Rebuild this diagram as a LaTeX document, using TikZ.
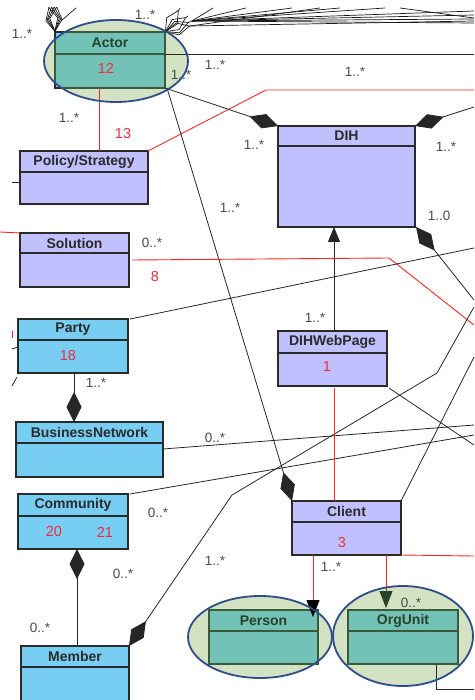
\documentclass[tikz,border=0pt]{standalone}
\usepackage{fontspec}
\setmainfont{Liberation Sans}
\usetikzlibrary{arrows.meta}
\definecolor{purpfill}{HTML}{C0C0FF}
\definecolor{cyanfill}{HTML}{78CEF2}
\definecolor{tealfill}{HTML}{72C2B8}
\definecolor{boxline}{HTML}{2A2A2A}
\definecolor{tealline}{HTML}{3A5A3A}
\definecolor{tealtext}{HTML}{274227}
\definecolor{ellfill}{HTML}{D2E2C2}
\definecolor{ellline}{HTML}{2D4E8A}
\definecolor{redline}{HTML}{FF2525}
\definecolor{redtext}{HTML}{F02A3C}
\definecolor{multc}{HTML}{4A4A4A}
\tikzset{
  clsbox/.style={rectangle, inner sep=0pt, outer sep=0pt, line width=1.1pt},
  pclass/.style={clsbox, fill=purpfill, draw=boxline},
  cclass/.style={clsbox, fill=cyanfill, draw=boxline},
  tclass/.style={clsbox, fill=tealfill, draw=tealline},
  pclassl/.style={draw=boxline, line width=1.1pt},
  cclassl/.style={draw=boxline, line width=1.1pt},
  tclassl/.style={draw=tealline, line width=1.1pt},
  pclasst/.style={font=\fontsize{14}{14}\selectfont\bfseries, text=boxline, inner sep=0pt},
  cclasst/.style={font=\fontsize{14}{14}\selectfont\bfseries, text=boxline, inner sep=0pt},
  tclasst/.style={font=\fontsize{14}{14}\selectfont\bfseries, text=tealtext, inner sep=0pt},
  mult/.style={font=\fontsize{13.5}{13.5}\selectfont, text=multc, inner sep=0pt},
  rnum/.style={font=\fontsize{14.5}{14.5}\selectfont, text=redtext, inner sep=0pt},
  conn/.style={draw=black!85, line width=0.8pt},
  thinconn/.style={draw=black!90, line width=0.7pt},
  rconn/.style={draw=redline, line width=0.9pt},
  comp/.style={-{Diamond[length=30pt,width=15pt]}},
  compstart/.style={{Diamond[length=30pt,width=15pt]}-},
  hollowd/.style={{Diamond[open,length=26pt,width=13pt]}-},
  ell/.style={draw=ellline, line width=1.8pt},
}
\newcommand{\umlcls}[8]{%
  \pgfmathsetmacro\cw{#4-#2}%
  \pgfmathsetmacro\chh{#5-#3}%
  \pgfmathsetmacro\hh{#6-#3}%
  \pgfmathsetmacro\hm{(#6-#3)/2}%
  \node[#8,minimum width=\cw pt,minimum height=\chh pt,anchor=north west] (#1) at (#2,#3) {};
  \draw[#8l] ([yshift=-\hh pt]#1.north west) -- ([yshift=-\hh pt]#1.north east);
  \node[#8t] (#1t) at ([yshift=-\hm pt]#1.north) {#7};
}
\begin{document}
\begin{tikzpicture}[x=1pt,y=-1pt]
\useasboundingbox (0,0) rectangle (474,700);
\clip (0,8) rectangle (474,700);

% ellipse fills
\fill[ellfill] (116,61) ellipse [x radius=72pt, y radius=41pt];
\fill[ellfill] (260,637) ellipse [x radius=72pt, y radius=41pt];
\fill[ellfill] (403,636) ellipse [x radius=70pt, y radius=50pt];

% class boxes
\node[cclass,minimum width=110pt,minimum height=56pt,anchor=north west] (actor) at (55,32) {};
\umlcls{policy}{20}{151}{148}{204}{172}{Policy/Strategy}{pclass}
\umlcls{dih}{278}{126}{415}{227}{146}{DIH}{pclass}
\umlcls{solution}{20}{233}{129}{287}{253}{Solution}{pclass}
\umlcls{party}{18}{319}{128}{373}{340}{Party}{cclass}
\umlcls{bn}{16}{422}{163}{477}{443}{BusinessNetwork}{cclass}
\umlcls{community}{18}{494}{128}{549}{516}{Community}{cclass}
\umlcls{member}{21}{646}{129}{712}{667}{Member}{cclass}
\umlcls{webpage}{278}{331}{387}{386}{353}{DIHWebPage}{pclass}
\umlcls{client}{292}{501}{401}{555}{522}{Client}{pclass}
\umlcls{person}{209}{610}{318}{664}{631}{Person}{tclass}
\umlcls{orgunit}{348}{610}{458}{664}{631}{OrgUnit}{tclass}

% Actor: teal inside its ellipse
\begin{scope}
  \clip (116,61) ellipse [x radius=72pt, y radius=41pt];
  \draw[tclass] (actor.north west) rectangle (actor.south east);
\end{scope}
\draw[tclassl] ([yshift=-22pt]actor.north west) -- ([yshift=-22pt]actor.north east);
\node[tclasst] (actort) at ([yshift=-11pt]actor.north) {Actor};

% ---- connectors ----
% top-left cluster
\foreach \a in {256,262,268,274} \draw[thinconn,hollowd] (actor.north west) -- ++(\a:40);
\coordinate (tlk) at (61,21);
\coordinate (tle) at (76,8);
\draw[thinconn] (tlk) -- (tle);

% top-right cluster
\coordinate (h1) at (192,21);
\coordinate (h2) at (190,26);
\coordinate (h3) at (180,8);
\coordinate (h4) at (188,16);
\draw[thinconn,hollowd] (actor.north east) -- (h1);
\draw[thinconn,hollowd] (actor.north east) -- (h2);
\draw[thinconn,hollowd] (actor.north east) -- (h3);
\draw[thinconn,hollowd] (actor.north east) -- (h4);
\foreach \p in {(213,8),(246,8),(292,8),(340,8),(385,8),(474,11),(474,15),(474,19),(474,23)}
  \draw[thinconn] (h1) -- \p;
\foreach \p in {(320,8),(474,21)}
  \draw[thinconn] (h2) -- \p;
\coordinate (xa) at (400,8);
\coordinate (xb) at (474,18);
\draw[thinconn] (xa) -- (xb);

% Actor - Policy (red)
\draw[rconn] ([xshift=44pt]actor.south west) -- ([xshift=79pt]policy.north west);
% Policy -> right (red)
\coordinate (r1) at (266,90);
\coordinate (r1e) at (474,90);
\draw[rconn] (policy.north east) -- (r1) -- (r1e);
% Actor horizontal
\coordinate (a1e) at (474,54);
\draw[conn] ([yshift=-22pt]actor.north east) -- (a1e);
% Actor -> DIH composition
\draw[conn,comp] (actor.south east) -- (dih.north west);
% DIH top right
\coordinate (d1e) at (474,107);
\draw[conn,compstart] (dih.north east) -- (d1e);
% DIH bottom right
\coordinate (d2e) at (474,300);
\draw[conn,compstart] ([xshift=1pt]dih.south east) -- (d2e);
% WebPage -> DIH
\draw[conn,-{Triangle[length=15pt,width=12pt]}] ([xshift=56pt]webpage.north west) -- ([xshift=56pt]webpage.north west |- dih.south);
% Actor -> Client composition
\draw[conn,comp] ([xshift=2pt]actor.south east) -- (client.north west);
% Solution red lines
\coordinate (s0) at (0,232);
\draw[rconn] (s0) -- (solution.north west);
\coordinate (s1) at (389,258);
\coordinate (s1e) at (474,325);
\draw[rconn] ([xshift=3pt]solution.east) -- (s1) -- (s1e);
% Party -> right
\coordinate (p1e) at (474,248);
\draw[conn] ([xshift=2pt]party.north east) -- (p1e);
% Party -> BusinessNetwork
\draw[conn,comp] ([xshift=56pt]party.south west) -- ([xshift=58pt]bn.north west);
% BN -> right
\coordinate (b1e) at (474,425);
\draw[conn] ([yshift=-27pt]bn.north east) -- (b1e);
% Community -> right
\coordinate (c1e) at (474,435);
\draw[conn] ([xshift=2pt]community.north east) -- (c1e);
% Community - Member
\draw[conn,compstart] ([xshift=59pt]community.south west) -- ([xshift=56pt]member.north west);
% Member -> right
\coordinate (m1) at (232,495);
\coordinate (m2) at (437,373);
\coordinate (m3e) at (474,307);
\draw[conn,compstart] (member.north east) -- (m1) -- (m2) -- (m3e);
% WebPage -> Client (red)
\draw[rconn] ([xshift=56pt,yshift=-2pt]webpage.south west) -- ([xshift=42pt]client.north west);
% WebPage -> right
\coordinate (w1e) at (474,445);
\draw[conn] ([xshift=2pt,yshift=-2pt]webpage.south east) -- (w1e);
% Client top-right
\coordinate (cl1e) at (474,357);
\draw[conn] (client.north east) -- (cl1e);
% Client right (red)
\coordinate (cl2e) at (474,556);
\draw[rconn] (client.south east) -- (cl2e);
% Client -> Person
\draw[rconn,-{Triangle[length=17pt,width=13pt,color=black]}] ([xshift=21pt]client.south west) -- ([xshift=-5pt,yshift=-7pt]person.north east);
% Client -> OrgUnit
\draw[rconn,-{Triangle[length=17pt,width=13pt,color=tealtext]}] ([xshift=94pt]client.south west) -- ([xshift=38pt,yshift=2pt]orgunit.north west);
% OrgUnit bottom
\coordinate (o1) at (436,689);
\coordinate (o1e) at (474,689);
\draw[conn] ([xshift=88pt]orgunit.south west) -- (o1) -- (o1e);
% left stubs
\coordinate (ps) at (12,182);
\draw[conn] (ps) -- ([yshift=-31pt]policy.north west);
\coordinate (pa) at (12,349);
\draw[conn] (pa) -- ([yshift=-28pt]party.north west);
\coordinate (pb1) at (12,386);
\coordinate (pb2) at (17,377);
\draw[conn] (pb1) -- (pb2);
\coordinate (pk1) at (12,331);
\coordinate (pk2) at (12,338);
\draw[draw=magenta!70!red, line width=0.9pt] (pk1) -- (pk2);

% ellipse outlines
\draw[ell] (116,61) ellipse [x radius=72pt, y radius=41pt];
\draw[ell] (260,637) ellipse [x radius=72pt, y radius=41pt];
\draw[ell] (403,636) ellipse [x radius=70pt, y radius=50pt];

% compartment numbers
\node[rnum] (n12) at (106,68) {12};
\node[rnum] (n13) at (123,134) {13};
\node[rnum] (n8) at (155,277) {8};
\node[rnum] (n18) at (68,356) {18};
\node[rnum] (n20) at (54,532) {20};
\node[rnum] (n21) at (105,532) {21};
\node[rnum] (n1) at (327,367) {1};
\node[rnum] (n3) at (342,543) {3};

% multiplicities
\node[mult] (l1) at (22,34) {1..*};
\node[mult] (l2) at (145,15) {1..*};
\node[mult] (l3) at (215,65) {1..*};
\node[mult] (l4) at (181,75) {1..*};
\node[mult] (l5) at (355,72) {1..*};
\node[mult] (l6) at (69,118) {1..*};
\node[mult] (l7) at (254,145) {1..*};
\node[mult] (l8) at (446,147) {1..*};
\node[mult] (l9) at (439,216) {1..0};
\node[mult] (l10) at (230,208) {1..*};
\node[mult] (l11) at (152,243) {0..*};
\node[mult] (l12) at (315,318) {1..*};
\node[mult] (l13) at (96,383) {1..*};
\node[mult] (l14) at (215,438) {0..*};
\node[mult] (l15) at (158,513) {0..*};
\node[mult] (l16) at (123,574) {0..*};
\node[mult] (l17) at (40,628) {0..*};
\node[mult] (l18) at (215,561) {1..*};
\node[mult] (l19) at (331,567) {1..*};
\node[mult] (l20) at (411,603) {0..*};
\end{tikzpicture}
\end{document}
